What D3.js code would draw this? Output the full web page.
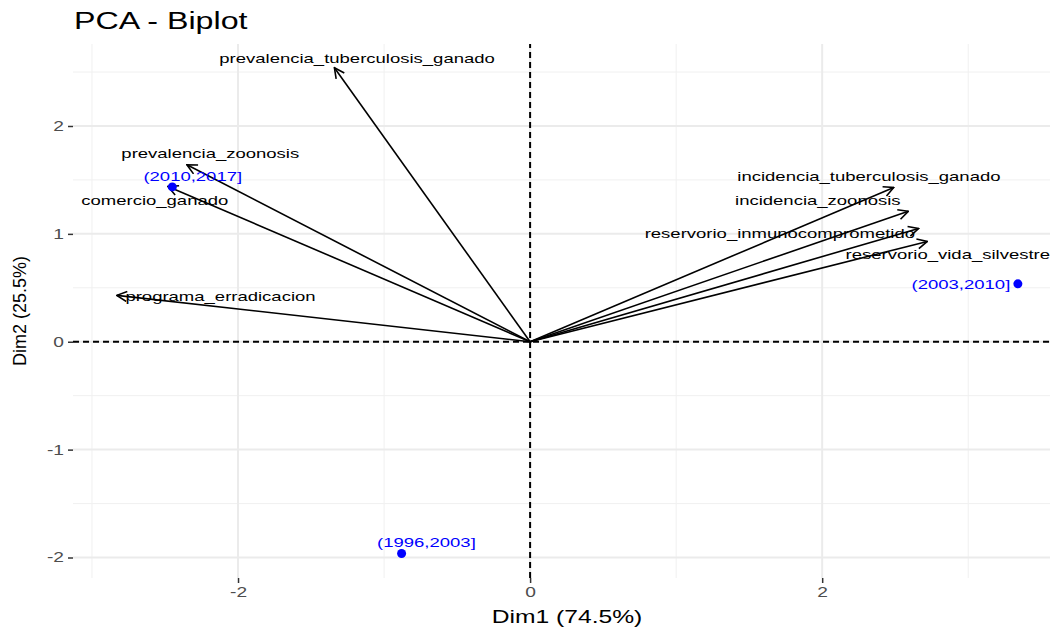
<!DOCTYPE html>
<html>
<head>
<meta charset="utf-8">
<script src="https://cdn.jsdelivr.net/npm/d3@7"></script>
<style>
  body { margin: 0; background: #fff; }
  text { font-family: "Liberation Sans", Arial, sans-serif; }
</style>
</head>
<body>
<script>
// variables (arrows)
var varNames = ["prevalencia_tuberculosis_ganado", "prevalencia_zoonosis", "comercio_ganado",
  "programa_erradicacion", "incidencia_tuberculosis_ganado", "incidencia_zoonosis",
  "reservorio_inmunocomprometido", "reservorio_vida_silvestre"];
var varDim1 = [-1.34, -2.35, -2.48, -2.83, 2.49, 2.59, 2.66, 2.72];
var varDim2 = [2.54, 1.64, 1.44, 0.43, 1.43, 1.21, 1.05, 0.93];
// repelled label positions (data units)
var varLabX = [-1.185, -2.19, -2.57, -2.12, 2.32, 1.97, 1.71, 2.86];
var varLabY = [2.63, 1.75, 1.31, 0.42, 1.53, 1.31, 1.01, 0.81];

// individuals (points)
var indNames = ["(2010,2017]", "(2003,2010]", "(1996,2003]"];
var indDim1 = [-2.45, 3.34, -0.88];
var indDim2 = [1.435, 0.537, -1.963];
var indLabX = [-2.31, 2.95, -0.71];
var indLabY = [1.53, 0.537, -1.86];

var xTicks = [-2, 0, 2];
var yTicks = [-2, -1, 0, 1, 2];

var W = 1055, H = 629;
var m = {left: 73, right: 5, top: 44, bottom: 51};
var sx = 1.37; // text in the reference is drawn wide

var svg = d3.select("body").append("svg")
  .attr("width", W).attr("height", H);

var x = d3.scaleLinear().domain([-3.13, 3.56]).range([m.left, W - m.right]);
var y = d3.scaleLinear().domain([-2.19, 2.76]).range([H - m.bottom, m.top]);

function wideText(sel, px, py) {
  return sel.attr("x", 0).attr("y", 0)
    .attr("transform", function(d) { return "translate(" + px(d) + "," + py(d) + ") scale(" + sx + ",1)"; });
}

// grid
var grid = svg.append("g");
var xMinor = [-3, -1, 1, 3], yMinor = [-1.5, -0.5, 0.5, 1.5, 2.5];
grid.selectAll(".vx").data(xMinor).enter().append("line")
  .attr("x1", d => x(d)).attr("x2", d => x(d)).attr("y1", y.range()[0]).attr("y2", y.range()[1])
  .attr("stroke", "#f0f0f0").attr("stroke-width", 1);
grid.selectAll(".hy").data(yMinor).enter().append("line")
  .attr("y1", d => y(d)).attr("y2", d => y(d)).attr("x1", x.range()[0]).attr("x2", x.range()[1])
  .attr("stroke", "#f0f0f0").attr("stroke-width", 1);
grid.selectAll(".vX").data(xTicks).enter().append("line")
  .attr("x1", d => x(d)).attr("x2", d => x(d)).attr("y1", y.range()[0]).attr("y2", y.range()[1])
  .attr("stroke", "#ebebeb").attr("stroke-width", 2);
grid.selectAll(".hY").data(yTicks).enter().append("line")
  .attr("y1", d => y(d)).attr("y2", d => y(d)).attr("x1", x.range()[0]).attr("x2", x.range()[1])
  .attr("stroke", "#ebebeb").attr("stroke-width", 2);

// axes
var xAxis = svg.append("g").attr("transform", "translate(0," + (H - m.bottom) + ")")
  .call(d3.axisBottom(x).tickValues(xTicks).tickSize(5).tickPadding(4));
var yAxis = svg.append("g").attr("transform", "translate(" + m.left + ",0)")
  .call(d3.axisLeft(y).tickValues(yTicks).tickSize(5).tickPadding(4));
[xAxis, yAxis].forEach(function(a) {
  a.select(".domain").remove();
  a.selectAll(".tick line").attr("stroke", "#333").attr("stroke-width", 1.5);
  a.selectAll(".tick text").attr("fill", "#4d4d4d").style("font-size", "14px")
    .text(d => d < 0 ? "-" + Math.abs(d) : d);
});
xAxis.selectAll(".tick text").attr("transform", "scale(" + sx + ",1)");
yAxis.selectAll(".tick text").attr("x", -9 / sx).attr("transform", "scale(" + sx + ",1)");

// dashed zero lines
svg.append("line").attr("x1", x.range()[0]).attr("x2", x.range()[1])
  .attr("y1", y(0)).attr("y2", y(0))
  .attr("stroke", "#000").attr("stroke-width", 2).attr("stroke-dasharray", "6,4");
svg.append("line").attr("x1", x(0)).attr("x2", x(0))
  .attr("y1", y.range()[0]).attr("y2", y.range()[1])
  .attr("stroke", "#000").attr("stroke-width", 2).attr("stroke-dasharray", "6,4");

// arrow marker
svg.append("defs").append("marker")
  .attr("id", "arr").attr("viewBox", "0 0 12 12").attr("refX", 11).attr("refY", 6)
  .attr("markerWidth", 12).attr("markerHeight", 12).attr("markerUnits", "userSpaceOnUse")
  .attr("orient", "auto")
  .append("path").attr("d", "M1,1 L11,6 L1,11")
  .attr("fill", "none").attr("stroke", "#000").attr("stroke-width", 1.6);

var vars = varNames.map((n, i) => ({name: n, d1: varDim1[i], d2: varDim2[i], lx: varLabX[i], ly: varLabY[i]}));
svg.selectAll(".arrow").data(vars).enter().append("line")
  .attr("x1", x(0)).attr("y1", y(0))
  .attr("x2", d => x(d.d1)).attr("y2", d => y(d.d2))
  .attr("stroke", "#000").attr("stroke-width", 1.6)
  .attr("marker-end", "url(#arr)");
wideText(svg.selectAll(".vlab").data(vars).enter().append("text"), d => x(d.lx), d => y(d.ly))
  .attr("text-anchor", "middle").attr("dy", "0.35em")
  .style("font-size", "13.5px").attr("fill", "#000")
  .text(d => d.name);

var inds = indNames.map((n, i) => ({name: n, d1: indDim1[i], d2: indDim2[i], lx: indLabX[i], ly: indLabY[i]}));
svg.selectAll(".pt").data(inds).enter().append("circle")
  .attr("cx", d => x(d.d1)).attr("cy", d => y(d.d2)).attr("r", 4.5)
  .attr("fill", "#0000ff");
wideText(svg.selectAll(".plab").data(inds).enter().append("text"), d => x(d.lx), d => y(d.ly))
  .attr("text-anchor", "middle").attr("dy", "0.35em")
  .style("font-size", "13.5px").attr("fill", "#0000ff")
  .text(d => d.name);

// titles
svg.append("text").attr("transform", "translate(74,29) scale(" + sx + ",1)")
  .style("font-size", "23.5px").attr("fill", "#000").text("PCA - Biplot");
svg.append("text").attr("transform", "translate(567,623) scale(" + sx + ",1)").attr("text-anchor", "middle")
  .style("font-size", "18px").attr("fill", "#000").text("Dim1 (74.5%)");
svg.append("text").attr("transform", "translate(26," + ((m.top + H - m.bottom) / 2) + ") rotate(-90)")
  .attr("text-anchor", "middle")
  .style("font-size", "18px").attr("fill", "#000").text("Dim2 (25.5%)");
</script>
</body>
</html>
